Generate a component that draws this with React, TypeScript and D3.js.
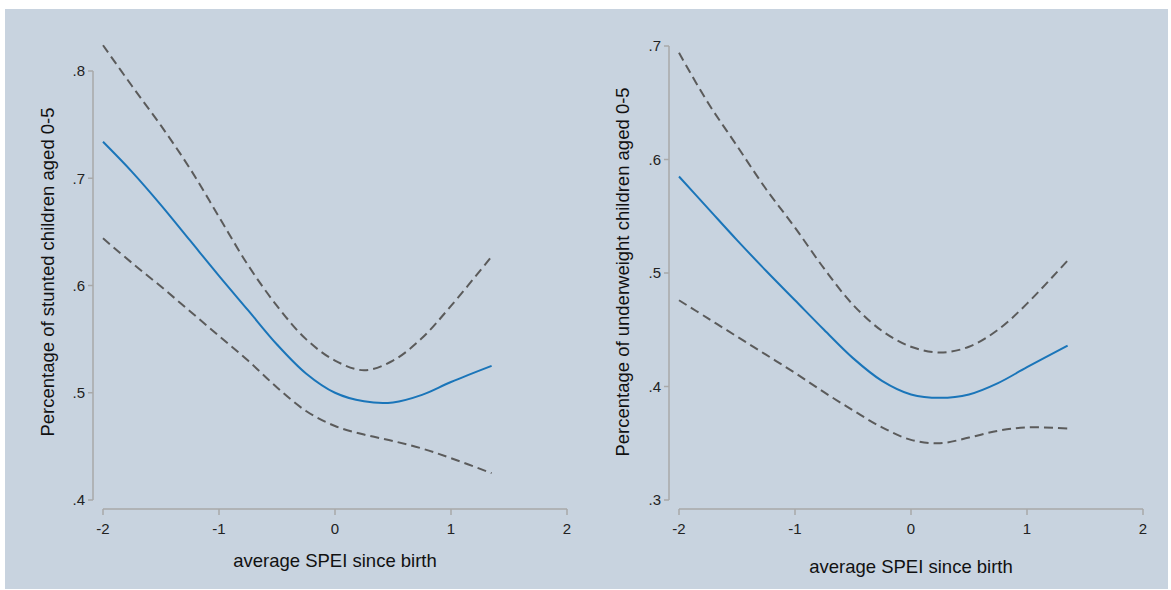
import React from "react";
import * as d3 from "d3";

const xs = [-2, -1.75, -1.5, -1.25, -1, -0.75, -0.5, -0.25, 0, 0.25, 0.5, 0.75, 1, 1.35];

// Left panel: stunted
const stuntMean = [0.734, 0.706, 0.675, 0.642, 0.609, 0.577, 0.545, 0.518, 0.500, 0.492, 0.491, 0.498, 0.510, 0.525];
const stuntUpper = [0.824, 0.786, 0.749, 0.709, 0.664, 0.619, 0.581, 0.550, 0.530, 0.521, 0.530, 0.551, 0.581, 0.627];
const stuntLower = [0.644, 0.621, 0.599, 0.576, 0.553, 0.530, 0.505, 0.483, 0.469, 0.461, 0.455, 0.448, 0.439, 0.425];

// Right panel: underweight
const uwMean = [0.585, 0.557, 0.529, 0.502, 0.476, 0.450, 0.425, 0.405, 0.393, 0.390, 0.393, 0.403, 0.417, 0.436];
const uwUpper = [0.694, 0.650, 0.612, 0.574, 0.540, 0.504, 0.472, 0.449, 0.435, 0.430, 0.435, 0.450, 0.473, 0.511];
const uwLower = [0.476, 0.460, 0.444, 0.428, 0.412, 0.395, 0.379, 0.364, 0.353, 0.350, 0.355, 0.361, 0.364, 0.363];

const xTicks = [-2, -1, 0, 1, 2];
const stuntTicks = [0.4, 0.5, 0.6, 0.7, 0.8];
const uwTicks = [0.3, 0.4, 0.5, 0.6, 0.7];

const BG = "#c8d3df";
const AXIS = "#a9a9a9";
const BLUE = "#1a75b9";
const DASH = "#5b5b5b";
const FONT = "Arial, 'Liberation Sans', sans-serif";

type PanelProps = {
  x0: number; // pixel of x=-2
  yDomain: [number, number];
  yRange: [number, number];
  ticks: number[];
  mean: number[];
  upper: number[];
  lower: number[];
  yTitle: string;
  yTitleX: number;
  xTitleY: number;
};

function fmt(v: number) {
  return "." + Math.round(v * 10);
}

function Panel(p: PanelProps) {
  const x = d3.scaleLinear().domain([-2, 2]).range([p.x0, p.x0 + 464]);
  const y = d3.scaleLinear().domain(p.yDomain).range(p.yRange);
  const line = (vals: number[]) =>
    d3
      .line<number>()
      .x((_, i) => x(xs[i]))
      .y((v) => y(v))
      .curve(d3.curveCatmullRom.alpha(0.5))(vals) || "";
  const axisX = p.x0 - 10;
  const axisY = 509;
  const yTop = y(p.ticks[p.ticks.length - 1]);
  const yBot = y(p.ticks[0]);
  const plotMid = 272;
  return (
    <g>
      {/* y axis */}
      <line x1={axisX} x2={axisX} y1={yTop} y2={yBot} stroke={AXIS} strokeWidth={1.5} />
      {p.ticks.map((t) => (
        <g key={t}>
          <line x1={axisX - 5} x2={axisX} y1={y(t)} y2={y(t)} stroke={AXIS} strokeWidth={1.5} />
          <text x={axisX - 8} y={y(t)} dy="0.35em" textAnchor="end" fontSize={15} fill="#222" fontFamily={FONT}>
            {fmt(t)}
          </text>
        </g>
      ))}
      {/* x axis */}
      <line x1={x(-2)} x2={x(2)} y1={axisY} y2={axisY} stroke={AXIS} strokeWidth={1.5} />
      {xTicks.map((t) => (
        <g key={t}>
          <line x1={x(t)} x2={x(t)} y1={axisY} y2={axisY + 6} stroke={AXIS} strokeWidth={1.5} />
          <text x={x(t)} y={axisY + 25} textAnchor="middle" fontSize={15} fill="#222" fontFamily={FONT}>
            {String(t)}
          </text>
        </g>
      ))}
      {/* titles */}
      <text
        transform={`translate(${p.yTitleX},${plotMid}) rotate(-90)`}
        textAnchor="middle"
        fontSize={18.5}
        fill="#111"
        fontFamily={FONT}
      >
        {p.yTitle}
      </text>
      <text x={x(0)} y={p.xTitleY} textAnchor="middle" fontSize={18.5} fill="#111" fontFamily={FONT}>
        average SPEI since birth
      </text>
      {/* lines */}
      <path d={line(p.upper)} fill="none" stroke={DASH} strokeWidth={2} strokeDasharray="9 5" />
      <path d={line(p.lower)} fill="none" stroke={DASH} strokeWidth={2} strokeDasharray="9 5" />
      <path d={line(p.mean)} fill="none" stroke={BLUE} strokeWidth={2} />
    </g>
  );
}

export default function App() {
  return (
    <svg width={1171} height={590} style={{ position: "absolute", left: 0, top: 0, display: "block" }}>
      <rect x={0} y={0} width={1171} height={590} fill="#ffffff" />
      <rect x={5} y={9} width={1163} height={580} fill={BG} />
      <Panel
        x0={103}
        yDomain={[0.4, 0.8]}
        yRange={[500, 71]}
        ticks={stuntTicks}
        mean={stuntMean}
        upper={stuntUpper}
        lower={stuntLower}
        yTitle="Percentage of stunted children aged 0-5"
        yTitleX={54}
        xTitleY={567}
      />
      <Panel
        x0={679}
        yDomain={[0.3, 0.7]}
        yRange={[500, 46]}
        ticks={uwTicks}
        mean={uwMean}
        upper={uwUpper}
        lower={uwLower}
        yTitle="Percentage of underweight children aged 0-5"
        yTitleX={629}
        xTitleY={573}
      />
    </svg>
  );
}
